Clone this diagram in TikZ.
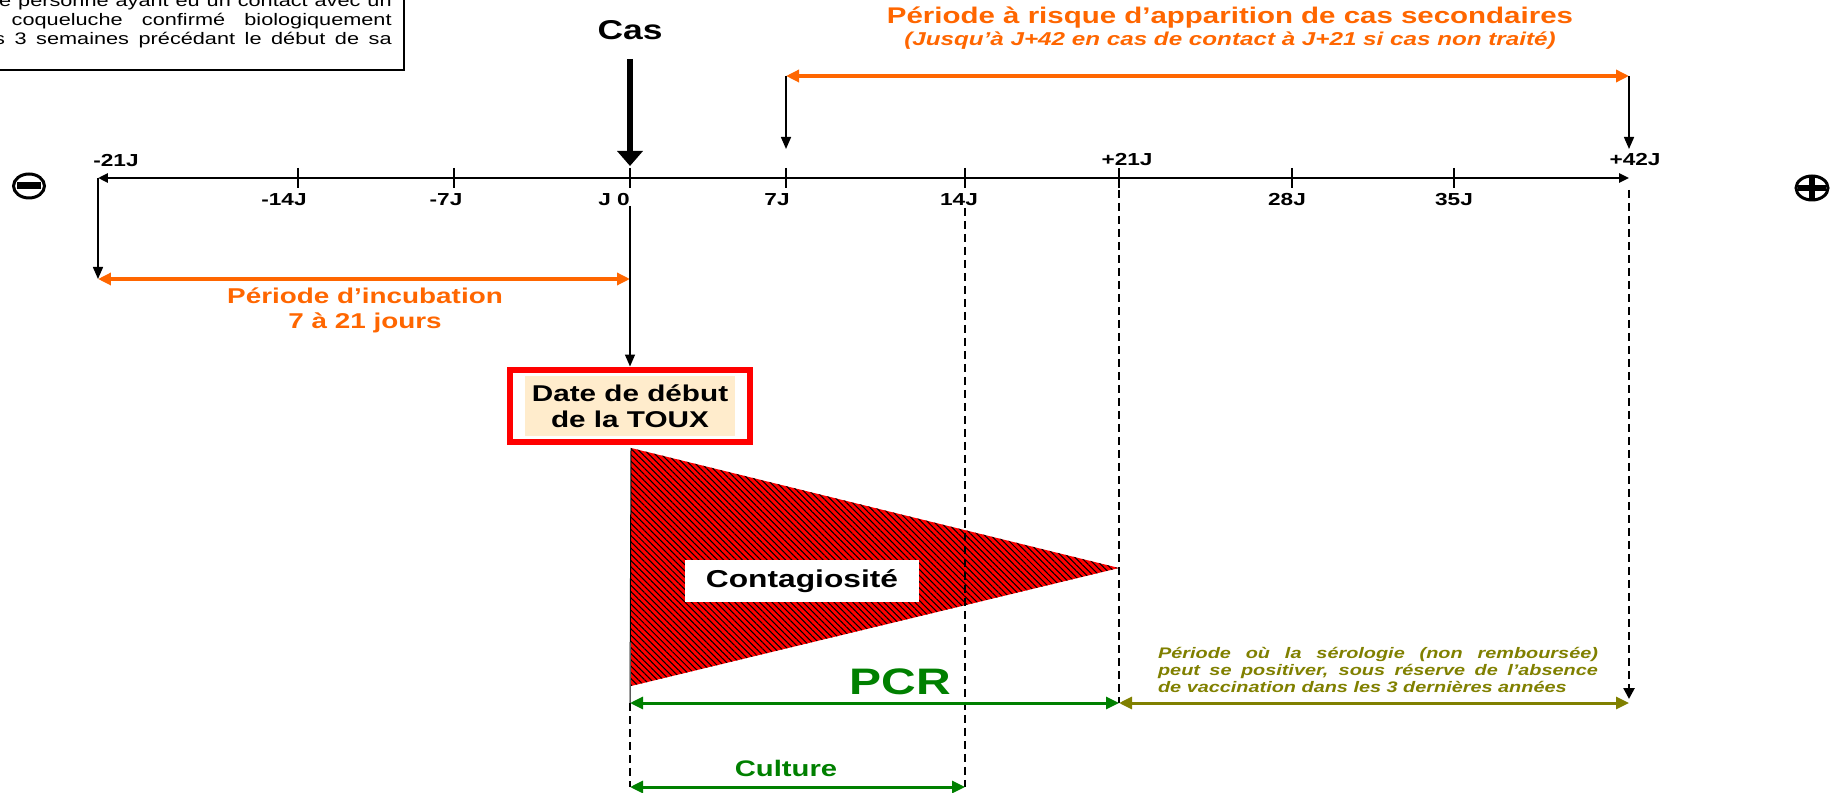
\documentclass[tikz,border=0pt]{standalone}
\usepackage{fontspec}
\setmainfont{Liberation Sans}[FakeStretch=1.3]
\usetikzlibrary{arrows.meta,patterns.meta}

\definecolor{riskorange}{RGB}{255,102,0}
\definecolor{pcrgreen}{RGB}{0,128,0}
\definecolor{serolive}{RGB}{128,128,0}
\definecolor{touxbeige}{RGB}{255,236,204}

\begin{document}
\begin{tikzpicture}[x=0.02cm,y=-0.02cm,
  tick_lbl/.style={font=\fontsize{9.9}{11}\selectfont\bfseries, inner sep=0},
  note_txt/.style={font=\fontsize{9.5}{11}\selectfont, inner sep=0},
  down_arrow/.style={-{Triangle[length=0.24cm,width=0.2cm]}, line width=0.03cm},
  span_arrow/.style={{Triangle[length=0.26cm,width=0.24cm]}-{Triangle[length=0.26cm,width=0.24cm]}, line width=0.07cm},
  guide_line/.style={dash pattern=on 0.16cm off 0.1cm, line width=0.05cm}]
\useasboundingbox (0,0) rectangle (1834,793);

% note box, cut by the border of the picture
\begin{scope}
  \clip (0,0) rectangle (1834,793);
  \draw[line width=0.04cm] (-20,-20) rectangle (404,70);
  \node[note_txt, anchor=east] (note_a) at (392,3) {\makebox[7.85cm][s]{e personne ayant eu un contact avec un}};
  \node[note_txt, anchor=east] (note_b) at (392,21) {\makebox[7.6cm][s]{coqueluche confirmé biologiquement}};
  \node[note_txt, anchor=east] (note_c) at (392,40) {\makebox[7.95cm][s]{s 3 semaines précédant le début de sa}};
\end{scope}

% time axis
\foreach \xx/\nm in {98/m21,298/m14,454/m7,630/z,786/p7,965/p14,1119/p21,1292/p28,1454/p35,1629/p42}
  \coordinate (t_\nm) at (\xx,178);
\draw[{Triangle[length=0.2cm,width=0.18cm]}-{Triangle[length=0.2cm,width=0.18cm]}, line width=0.05cm] (t_m21) -- (t_p42);
\foreach \nm in {m14,m7,z,p7,p14,p21,p28,p35}
  \draw[line width=0.03cm] ([yshift=0.2cm]t_\nm) -- ([yshift=-0.2cm]t_\nm);

\node[tick_lbl] (l_m21) at (116,161) {-21J};
\node[tick_lbl] (l_m14) at (284,200) {-14J};
\node[tick_lbl] (l_m7) at (446,200) {-7J};
\node[tick_lbl] (l_z) at (614,200) {J 0};
\node[tick_lbl] (l_p7) at (777,200) {7J};
\node[tick_lbl] (l_p14) at (959,200) {14J};
\node[tick_lbl] (l_p21) at (1127,160) {+21J};
\node[tick_lbl] (l_p28) at (1287,200) {28J};
\node[tick_lbl] (l_p35) at (1454,200) {35J};
\node[tick_lbl] (l_p42) at (1635,160) {+42J};

% minus and plus ends
\draw[line width=0.06cm] (29,186) ellipse [x radius=0.31cm, y radius=0.24cm];
\draw[line width=0.14cm] (17,186) -- (41,186);
\draw[line width=0.06cm] (1812,188) ellipse [x radius=0.32cm, y radius=0.24cm];
\draw[line width=0.11cm] (1798,188) -- (1826,188);
\draw[line width=0.12cm] (1812,177) -- (1812,199);

% case
\node[font=\fontsize{15.5}{17}\selectfont\bfseries] (cas) at (630,30) {Cas};
\coordinate (cas_tip) at (630,166);
\draw[line width=0.12cm, -{Triangle[length=0.3cm,width=0.5cm]}, shorten <=0.26cm] (cas.south) -- (cas_tip);

% secondary cases
\node[font=\fontsize{12.9}{15}\selectfont\bfseries, text=riskorange] (risk_title) at (1230,18) {Période à risque d’apparition de cas secondaires};
\node[font=\fontsize{10.6}{12}\selectfont\bfseries\itshape, text=riskorange] (risk_note) at (1230,41) {(Jusqu’à J+42 en cas de contact à J+21 si cas non traité)};
\coordinate (risk_l) at (786,76);
\coordinate (risk_r) at (1629,76);
\coordinate (d_p7) at (786,149);
\coordinate (d_p42) at (1629,149);
\draw[span_arrow, riskorange] (risk_l) -- (risk_r);
\draw[down_arrow] (risk_l) -- (d_p7);
\draw[down_arrow] (risk_r) -- (d_p42);

% incubation
\coordinate (inc_l) at (98,279);
\coordinate (inc_r) at (630,279);
\draw[down_arrow] (t_m21) -- (inc_l);
\draw[span_arrow, riskorange] (inc_l) -- (inc_r);
\node[align=center, text=riskorange, font=\fontsize{12.2}{14.2}\selectfont\bfseries] (inc_txt) at (365,310) {Période d’incubation\\7 à 21 jours};

% onset of cough
\node[draw=red, line width=0.12cm, minimum width=4.8cm, minimum height=1.46cm] (toux_box) at (630,406) {};
\node[fill=touxbeige, minimum width=4.2cm, minimum height=1.2cm, align=center, font=\fontsize{13}{14.8}\selectfont\bfseries] (toux) at (630,406) {Date de début\\de la TOUX};
\coordinate (z_top) at (630,206);
\draw[down_arrow] (z_top) -- (toux_box.north);

% contagiousness
\coordinate (tri_top) at (631,448);
\coordinate (tri_bot) at (631,686);
\coordinate (tri_tip) at (1119,568);
\fill[red] (tri_top) -- (tri_tip) -- (tri_bot) -- cycle;
\fill[pattern={Lines[angle=-45,distance=2.5pt,line width=0.6pt]}, pattern color=black] (tri_top) -- (tri_tip) -- (tri_bot) -- cycle;
\node[fill=white, minimum width=4.7cm, minimum height=0.86cm, font=\fontsize{13.9}{15}\selectfont\bfseries] (contag) at (802,581) {Contagiosité};

% tests
\coordinate (pcr_l) at (630,703);
\coordinate (pcr_r) at (1119,703);
\coordinate (sero_r) at (1629,703);
\coordinate (cul_l) at (630,787);
\coordinate (cul_r) at (965,787);
\coordinate (g14_top) at (965,208);
\coordinate (g21_top) at (1119,190);
\coordinate (g42_top) at (1629,190);
\coordinate (g42_bot) at (1629,699);
\draw[line width=0.02cm] (tri_top) -- (pcr_l);
\draw[guide_line] (g14_top) -- (cul_r);
\draw[guide_line] (g21_top) -- (pcr_r);
\draw[guide_line, -{Triangle[length=0.22cm,width=0.22cm]}] (g42_top) -- (g42_bot);
\draw[guide_line] (pcr_l) -- (cul_l);

\draw[span_arrow, pcrgreen, line width=0.06cm] (pcr_l) -- (pcr_r);
\node[text=pcrgreen, font=\fontsize{21}{24}\selectfont\bfseries] (pcr) at (900,682) {PCR};
\draw[span_arrow, pcrgreen, line width=0.06cm] (cul_l) -- (cul_r);
\node[text=pcrgreen, font=\fontsize{12.8}{15}\selectfont\bfseries] (culture) at (786,768) {Culture};
\draw[span_arrow, serolive, line width=0.06cm] (pcr_r) -- (sero_r);
\node[text=serolive, align=left, inner sep=0, font=\fontsize{8.7}{9.7}\selectfont\bfseries\itshape] (sero) at (1378,670) {\makebox[8.8cm][s]{Période où la sérologie (non remboursée)}\\\makebox[8.8cm][s]{peut se positiver, sous réserve de l’absence}\\de vaccination dans les 3 dernières années};

\end{tikzpicture}
\end{document}
